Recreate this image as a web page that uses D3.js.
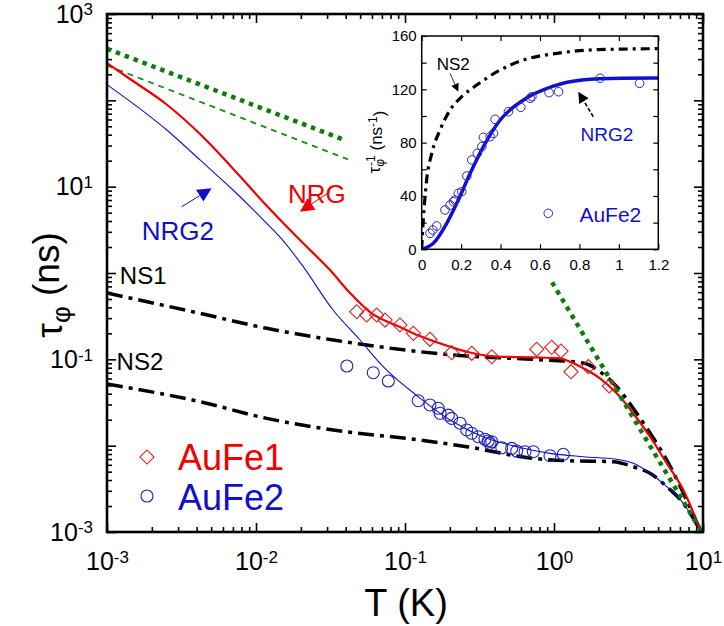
<!DOCTYPE html>
<html><head><meta charset="utf-8">
<script src="https://cdn.jsdelivr.net/npm/d3@7"></script>
<style>
html,body{margin:0;padding:0;background:#fff;}
svg{display:block;}
text{font-family:"Liberation Sans",Arial,Helvetica,sans-serif;}
</style>
</head><body>
<svg id="chart" width="724" height="626"></svg>
<script>
// ---------------- DATA ----------------
const xMajorExps = [-3, -2, -1, 0, 1];
const yMajorExps = [-3, -2, -1, 0, 1, 2, 3];
const yLabelExps = [-3, -1, 1, 3];
const insetXTicks = [0, 0.2, 0.4, 0.6, 0.8, 1, 1.2];
const insetYTicks = [0, 40, 80, 120, 160];
const insetYMinor = [20, 60, 100, 140];

// main panel: [T (K), tau_phi (ns)]
const nrg = [[1e-3,270],[1.427e-3,176.6],[2.49e-3,90.7],[4.21e-3,40.7],[7.35e-3,14.8],
  [0.01167,6.13],[0.01972,2.41],[0.0314,1.08],[0.0428,0.586],[0.0582,0.353],
  [0.0925,0.237],[0.126,0.186],[0.2005,0.140],[0.2594,0.1225],[0.4347,0.1072],[0.7228,0.1055],
  [1.097,0.1028],[1.28,0.0938],[1.657,0.0752],[2.036,0.0603],[2.636,0.0404],[3.39,0.0239],
  [4.41,0.0127],[5.71,6.25e-3],[7.38,3.06e-3],[9.7,1e-3]];
const nrg2 = [[1e-3,152],[2.52e-3,45.3],[4.21e-3,20.4],[7.01e-3,9.15],[0.0118,3.76],[0.01449,2.6],
  [0.01875,1.5],[0.02064,1.2],[0.0329,0.3726],[0.0499,0.1675],[0.0714,0.0822],[0.126,0.0356],
  [0.2005,0.0198],[0.333,0.0127],[0.562,9.73e-3],[0.94,8.15e-3],[1.573,7.45e-3],[2.636,6.95e-3],
  [3.41,6.25e-3],[4.41,4.79e-3],[5.71,3.35e-3],[7.38,2.15e-3],[9.7,1e-3]];
const ns1 = [[1e-3,0.586],[4.21e-3,0.341],[0.0118,0.2287],[0.0330,0.1675],[0.126,0.1225],[0.2594,0.1092],
  [0.7228,0.1],[1.566,0.0906],[2.036,0.0719],[2.636,0.0482],[3.39,0.0273],[4.41,0.01402],[5.71,6.82e-3],
  [7.38,2.83e-3],[9.7,1e-3]];
const ns2 = [[1e-3,0.0518],[4.21e-3,0.0323],[0.0118,0.0207],[0.0330,0.0152],[0.126,0.0116],[0.2594,9.73e-3],
  [0.7264,7.13e-3],[1.217,6.70e-3],[2.50,6.52e-3],[3.41,5.70e-3],[4.41,4.79e-3],[5.71,3.35e-3],
  [7.38,2.15e-3],[9.7,1e-3]];
const eeDotted = [[1e-3,396],[0.0405,34]];
const eeDashed = [[1e-3,253],[0.0414,20.7]];
const phononDotted = [[0.97,0.78],[9.8,1e-3]];
const aufe1 = [[0.0474,0.356],[0.0553,0.326],[0.0646,0.326],[0.0735,0.285],[0.0925,0.250],[0.1138,0.200],
  [0.147,0.1706],[0.2056,0.1194],[0.2805,0.1175],[0.382,0.1072],[0.766,0.1306],[0.966,0.1377],
  [1.114,0.1248],[1.30,0.0719],[1.70,0.0822],[2.35,0.0491]];
const aufe2 = [[0.0407,0.0837],[0.0612,0.070],[0.0773,0.0561],[0.1227,0.0332],[0.147,0.0296],[0.167,0.0271],
  [0.172,0.0237],[0.1954,0.0226],[0.2056,0.0207],[0.234,0.0182],[0.2594,0.0152],[0.2805,0.0139],
  [0.310,0.0127],[0.344,0.01186],[0.362,0.01132],[0.382,0.01111],[0.372,0.01064],[0.446,9.46e-3],
  [0.52,9.31e-3],[0.562,8.67e-3],[0.639,8.51e-3],[0.7264,8.51e-3],[0.94,7.65e-3],[1.154,7.94e-3]];

// inset: [T (K), 1/tau_phi (ns^-1)]
const insetNs2 = [[0,0],[0.003,10],[0.008,22],[0.025,52],[0.051,72],[0.093,89.5],[0.144,104.5],[0.203,114.5],
  [0.279,123.2],[0.398,134.5],[0.516,142],[0.686,147],[0.855,149.5],[1.024,150.2],[1.2,150.5]];
const insetNrg2 = [[0,0],[0.059,4.5],[0.127,19.5],[0.178,34.5],[0.246,57],[0.313,77],[0.398,97],
  [0.516,112],[0.66,122],[0.813,127],[1.016,128.3],[1.2,128.5]];
const insetAufe2 = [[0.042,12.0],[0.056,14.5],[0.076,17.5],[0.118,29.5],[0.144,33.2],[0.161,35.7],[0.169,37],
  [0.186,42],[0.203,43.2],[0.229,55],[0.254,67],[0.282,72],[0.305,77],[0.313,84],[0.347,84.5],[0.364,87],
  [0.372,97.5],[0.44,103.2],[0.503,106.5],[0.55,113.3],[0.559,114.5],[0.646,117.5],[0.694,118.2],
  [0.905,128.3],[1.105,124.5]];

// ---------------- DRAW ----------------
const svg = d3.select("#chart");
svg.append("rect").attr("width",724).attr("height",626).attr("fill","#fff");
const FONT = '"Liberation Sans",Arial,sans-serif';

const x = d3.scaleLog().domain([1e-3, 10]).range([107, 703]);
const y = d3.scaleLog().domain([1e-3, 1e3]).range([532, 14]);

const xMajor = xMajorExps.map(e => Math.pow(10, e));
const xMinor = [];
for (let e = -3; e < 1; e++) for (let k = 2; k <= 9; k++) xMinor.push(k * Math.pow(10, e));
const yMajor = yMajorExps.map(e => Math.pow(10, e));
const yMinor = [];
for (let e = -3; e < 3; e++) for (let k = 2; k <= 9; k++) yMinor.push(k * Math.pow(10, e));
const yLabelVals = yLabelExps.map(e => Math.pow(10, e));

function supLabels(g, fs) {
  g.selectAll(".tick text").each(function(d) {
    const t = d3.select(this);
    const e = Math.round(Math.log10(d));
    t.text(null);
    t.append("tspan").text("10");
    t.append("tspan").attr("dy", "-0.42em").attr("font-size", (fs*0.68)+"px").text(String(e));
  });
}
function styleAxis(g) {
  g.select(".domain").remove();
  g.selectAll(".tick line").attr("stroke", "#000").attr("stroke-width", 1.6);
}

const axes = svg.append("g");
axes.append("g").attr("transform","translate(0,532)")
  .call(d3.axisBottom(x).tickValues(xMinor).tickSize(-5).tickFormat("")).call(styleAxis);
axes.append("g").attr("transform","translate(0,532)")
  .call(d3.axisBottom(x).tickValues(xMajor).tickSize(-9).tickPadding(20))
  .call(styleAxis)
  .call(g => g.selectAll(".tick text").attr("font-size","25px").attr("font-family",FONT).attr("fill","#000"))
  .call(g => supLabels(g, 25));
axes.append("g").attr("transform","translate(0,14)")
  .call(d3.axisTop(x).tickValues(xMinor).tickSize(-5).tickFormat("")).call(styleAxis);
axes.append("g").attr("transform","translate(0,14)")
  .call(d3.axisTop(x).tickValues(xMajor).tickSize(-9).tickFormat("")).call(styleAxis);
axes.append("g").attr("transform","translate(107,0)")
  .call(d3.axisLeft(y).tickValues(yMinor).tickSize(-5).tickFormat("")).call(styleAxis);
axes.append("g").attr("transform","translate(107,0)")
  .call(d3.axisLeft(y).tickValues(yMajor).tickSize(-9).tickFormat("")).call(styleAxis);
axes.append("g").attr("transform","translate(107,0)")
  .call(d3.axisLeft(y).tickValues(yLabelVals).tickSize(0).tickPadding(14))
  .call(styleAxis)
  .call(g => g.selectAll(".tick text").attr("font-size","25px").attr("font-family",FONT).attr("fill","#000"))
  .call(g => supLabels(g, 25));
axes.append("g").attr("transform","translate(703,0)")
  .call(d3.axisRight(y).tickValues(yMinor).tickSize(-5).tickFormat("")).call(styleAxis);
axes.append("g").attr("transform","translate(703,0)")
  .call(d3.axisRight(y).tickValues(yMajor).tickSize(-9).tickFormat("")).call(styleAxis);

svg.append("defs").append("clipPath").attr("id","clipMain")
  .append("rect").attr("x",107).attr("y",14).attr("width",596).attr("height",518);
const plot = svg.append("g").attr("clip-path","url(#clipMain)");

const line = d3.line().x(d => x(d[0])).y(d => y(d[1])).curve(d3.curveMonotoneX);
const straight = d3.line().x(d => x(d[0])).y(d => y(d[1]));

plot.append("path").datum(eeDashed).attr("d", straight).attr("fill","none")
  .attr("stroke","#1a8a1a").attr("stroke-width",1.8).attr("stroke-dasharray","6,5");
plot.append("path").datum(eeDotted).attr("d", straight).attr("fill","none")
  .attr("stroke","#0a7d0a").attr("stroke-width",4.5).attr("stroke-dasharray","4.5,5");

plot.append("path").datum(ns1).attr("d", line).attr("fill","none")
  .attr("stroke","#000").attr("stroke-width",3.5).attr("stroke-dasharray","16,6,4,6");
plot.append("path").datum(ns2).attr("d", line).attr("fill","none")
  .attr("stroke","#000").attr("stroke-width",3.5).attr("stroke-dasharray","16,6,4,6");
plot.append("path").datum(nrg2).attr("d", line).attr("fill","none")
  .attr("stroke","#1010c8").attr("stroke-width",1.1);
plot.append("path").datum(nrg).attr("d", line).attr("fill","none")
  .attr("stroke","#f00000").attr("stroke-width",2.2);
plot.append("path").datum(phononDotted).attr("d", straight).attr("fill","none")
  .attr("stroke","#0a7d0a").attr("stroke-width",4.5).attr("stroke-dasharray","4.5,5");

const diamond = d3.symbol().type(d3.symbolSquare).size(100);
plot.selectAll(".d1").data(aufe1).join("path")
  .attr("d", diamond).attr("transform", d => `translate(${x(d[0])},${y(d[1])}) rotate(45)`)
  .attr("fill","none").attr("stroke","#e02020").attr("stroke-width",1.1);
plot.selectAll(".c2").data(aufe2).join("circle")
  .attr("cx", d => x(d[0])).attr("cy", d => y(d[1])).attr("r", 6)
  .attr("fill","none").attr("stroke","#2020c0").attr("stroke-width",1.1);

svg.append("rect").attr("x",107).attr("y",14).attr("width",596).attr("height",518)
  .attr("fill","none").attr("stroke","#000").attr("stroke-width",2.6);

function arrow(g, x1, y1, x2, y2, color, len, wid, sw, dash) {
  const dx = x2-x1, dy = y2-y1, L = Math.hypot(dx,dy), ux = dx/L, uy = dy/L;
  const bx = x2 - ux*len, by = y2 - uy*len;
  g.append("line").attr("x1",x1).attr("y1",y1).attr("x2",bx).attr("y2",by)
    .attr("stroke",color).attr("stroke-width",sw).attr("stroke-dasharray", dash || null);
  g.append("path").attr("d", `M${x2},${y2}L${bx - uy*wid},${by + ux*wid}L${bx + uy*wid},${by - ux*wid}Z`)
    .attr("fill",color);
}

const ann = svg.append("g");
ann.append("text").attr("x", x(0.0164)).attr("y", y(6.47)).attr("font-size","26px").attr("fill","#f00000").text("NRG");
arrow(ann, x(0.0314), y(8.74), x(0.01972), y(5.13), "#f00000", 14, 7, 1);
ann.append("text").attr("x", x(1.71e-3)).attr("y", y(2.41)).attr("font-size","26px").attr("fill","#1010c8").text("NRG2");
arrow(ann, x(3.17e-3), y(5.86), x(5.04e-3), y(9.57), "#1010c8", 14, 7, 1);
ann.append("text").attr("x", x(1.22e-3)).attr("y", y(0.745)).attr("font-size","24px").attr("fill","#000").text("NS1");
ann.append("text").attr("x", x(1.16e-3)).attr("y", y(0.0752)).attr("font-size","24px").attr("fill","#000").text("NS2");

const leg = svg.append("g");
leg.append("path").attr("d", diamond).attr("transform","translate(147,457) rotate(45)")
  .attr("fill","none").attr("stroke","#e02020").attr("stroke-width",1.1);
leg.append("text").attr("x",178).attr("y",470).attr("font-size","36px").attr("fill","#f00000").text("AuFe1");
leg.append("circle").attr("cx",147).attr("cy",496).attr("r",6)
  .attr("fill","none").attr("stroke","#2020c0").attr("stroke-width",1.1);
leg.append("text").attr("x",178).attr("y",510).attr("font-size","36px").attr("fill","#1010c8").text("AuFe2");

svg.append("text").attr("x",406).attr("y",616).attr("text-anchor","middle").attr("font-size","38px").text("T (K)");
const yt = svg.append("text").attr("transform","translate(62,285) rotate(-90)").attr("text-anchor","middle").attr("font-size","37px");
yt.append("tspan").text("τ");
yt.append("tspan").attr("dy","0.3em").attr("font-size","26px").text("φ");
yt.append("tspan").attr("dy","-0.3em").text(" (ns)");

// ---------------- INSET ----------------
const xi = d3.scaleLinear().domain([0, 1.2]).range([421.7, 658.3]);
const yi = d3.scaleLinear().domain([0, 160]).range([249.3, 36]);
const ins = svg.append("g");
ins.append("rect").attr("x",421.7).attr("y",36).attr("width",236.6).attr("height",213.3).attr("fill","#fff");
function styleInset(g) {
  g.select(".domain").remove();
  g.selectAll(".tick line").attr("stroke","#000").attr("stroke-width",1.2);
  g.selectAll(".tick text").attr("font-size","15px").attr("font-family",FONT).attr("fill","#000");
}
ins.append("g").attr("transform","translate(0,249.3)")
  .call(d3.axisBottom(xi).tickValues(insetXTicks).tickSize(-5).tickPadding(10).tickFormat(d3.format("~g"))).call(styleInset);
ins.append("g").attr("transform","translate(0,36)")
  .call(d3.axisTop(xi).tickValues(insetXTicks).tickSize(-5).tickFormat("")).call(styleInset);
ins.append("g").attr("transform","translate(421.7,0)")
  .call(d3.axisLeft(yi).tickValues(insetYTicks).tickSize(-5).tickPadding(5)).call(styleInset);
ins.append("g").attr("transform","translate(421.7,0)")
  .call(d3.axisLeft(yi).tickValues(insetYMinor).tickSize(-5).tickFormat("")).call(styleInset);
ins.append("g").attr("transform","translate(658.3,0)")
  .call(d3.axisRight(yi).tickValues(insetYTicks.concat(insetYMinor)).tickSize(-5).tickFormat("")).call(styleInset);

svg.append("defs").append("clipPath").attr("id","clipInset")
  .append("rect").attr("x",421.7).attr("y",36).attr("width",236.6).attr("height",213.3);
const ip = ins.append("g").attr("clip-path","url(#clipInset)");
const iline = d3.line().x(d => xi(d[0])).y(d => yi(d[1])).curve(d3.curveMonotoneX);
ip.append("path").datum(insetNs2).attr("d", iline).attr("fill","none")
  .attr("stroke","#000").attr("stroke-width",3.2).attr("stroke-dasharray","9,5,3,5");
ip.append("path").datum(insetNrg2).attr("d", iline).attr("fill","none")
  .attr("stroke","#1010d0").attr("stroke-width",3.5);
ip.selectAll("circle").data(insetAufe2).join("circle")
  .attr("cx", d => xi(d[0])).attr("cy", d => yi(d[1])).attr("r", 4.3)
  .attr("fill","none").attr("stroke","#2828c8").attr("stroke-width",1);
ins.append("rect").attr("x",421.7).attr("y",36).attr("width",236.6).attr("height",213.3)
  .attr("fill","none").attr("stroke","#000").attr("stroke-width",1.5);

ins.append("text").attr("x", xi(0.0761)).attr("y", yi(134.5)).attr("font-size","17px").text("NS2");
arrow(ins, xi(0.1435), yi(132), xi(0.1856), yi(118.2), "#000", 8, 4, 0.8);
ins.append("text").attr("x", xi(0.806)).attr("y", yi(81.2)).attr("font-size","19px").attr("fill","#1010d0").text("NRG2");
arrow(ins, xi(0.870), yi(99.5), xi(0.794), yi(118.2), "#000", 11, 5.5, 1.6, "4,2");
ins.append("circle").attr("cx", xi(0.642)).attr("cy", yi(27)).attr("r",4.3)
  .attr("fill","none").attr("stroke","#2828c8").attr("stroke-width",1);
ins.append("text").attr("x", xi(0.80)).attr("y", yi(20.5)).attr("font-size","21px").attr("fill","#1010d0").text("AuFe2");

const iyt = ins.append("text").attr("transform","translate(380,142) rotate(-90)").attr("text-anchor","middle").attr("font-size","17px");
iyt.append("tspan").text("τ");
iyt.append("tspan").attr("dy","0.35em").attr("font-size","12px").text("φ");
iyt.append("tspan").attr("dy","-0.8em").attr("dx","-7px").attr("font-size","12px").text("-1");
iyt.append("tspan").attr("dy","0.45em").text(" (ns");
iyt.append("tspan").attr("dy","-0.45em").attr("font-size","12px").text("-1");
iyt.append("tspan").attr("dy","0.45em").text(")");
</script>
</body></html>
